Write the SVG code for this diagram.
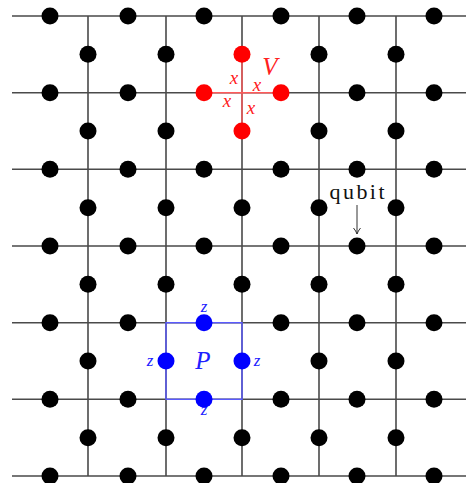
<svg xmlns="http://www.w3.org/2000/svg" width="466" height="483" viewBox="0 0 466 483">
<defs>
<style>
.g{stroke:#4a4a4a;stroke-width:1.6;fill:none}
.d{fill:#000}
.r{fill:#ff0000}
.rl{stroke:#ff5a5a;stroke-width:1.4;fill:none}
.b{fill:#0000ff}
.bl{stroke:#5a5aff;stroke-width:1.4;fill:none}
.t{font-family:"Liberation Serif","DejaVu Serif",serif}
.it{font-style:italic}
</style>
<circle id="dot" r="8.5"/>
<marker id="ah" markerWidth="8" markerHeight="8" refX="6" refY="4" orient="auto" markerUnits="userSpaceOnUse"><path d="M0,0.5 Q3,3 6,4 Q3,5 0,7.5" fill="none" stroke="#333" stroke-width="1"/></marker>
</defs>
<rect width="466" height="483" fill="#fff"/>
<g id="connectors">
<g class="g">
<path d="M12,16H466M12,92.7H466M12,169.3H466M12,246H466M12,322.7H466M12,399.3H466M12,476H466"/>
<path d="M88,16V476M166,16V476M242,16V476M319,16V476M396,16V476"/>
</g>
<g id="V-edges" class="rl"><path d="M204,92.7H281M242,54V131"/></g>
<g id="P-edges" class="bl"><rect x="166" y="322.7" width="76" height="76.6"/></g>
<line x1="357" y1="205" x2="357" y2="234" stroke="#333" stroke-width="1" marker-end="url(#ah)"/>
</g>
<g id="qubits" class="d">
<use href="#dot" x="50" y="16"/><use href="#dot" x="128" y="16"/><use href="#dot" x="204" y="16"/><use href="#dot" x="281" y="16"/><use href="#dot" x="357" y="16"/><use href="#dot" x="434" y="16"/>
<use href="#dot" x="50" y="92.7"/><use href="#dot" x="128" y="92.7"/><use href="#dot" x="357" y="92.7"/><use href="#dot" x="434" y="92.7"/>
<use href="#dot" x="50" y="169.3"/><use href="#dot" x="128" y="169.3"/><use href="#dot" x="204" y="169.3"/><use href="#dot" x="281" y="169.3"/><use href="#dot" x="357" y="169.3"/><use href="#dot" x="434" y="169.3"/>
<use href="#dot" x="50" y="246"/><use href="#dot" x="128" y="246"/><use href="#dot" x="204" y="246"/><use href="#dot" x="281" y="246"/><use href="#dot" x="357" y="246"/><use href="#dot" x="434" y="246"/>
<use href="#dot" x="50" y="322.7"/><use href="#dot" x="128" y="322.7"/><use href="#dot" x="281" y="322.7"/><use href="#dot" x="357" y="322.7"/><use href="#dot" x="434" y="322.7"/>
<use href="#dot" x="50" y="399.3"/><use href="#dot" x="128" y="399.3"/><use href="#dot" x="281" y="399.3"/><use href="#dot" x="357" y="399.3"/><use href="#dot" x="434" y="399.3"/>
<use href="#dot" x="50" y="476"/><use href="#dot" x="128" y="476"/><use href="#dot" x="204" y="476"/><use href="#dot" x="281" y="476"/><use href="#dot" x="357" y="476"/><use href="#dot" x="434" y="476"/>
<use href="#dot" x="88" y="54.3"/><use href="#dot" x="166" y="54.3"/><use href="#dot" x="319" y="54.3"/><use href="#dot" x="396" y="54.3"/>
<use href="#dot" x="88" y="131"/><use href="#dot" x="166" y="131"/><use href="#dot" x="319" y="131"/><use href="#dot" x="396" y="131"/>
<use href="#dot" x="88" y="207.7"/><use href="#dot" x="166" y="207.7"/><use href="#dot" x="242" y="207.7"/><use href="#dot" x="319" y="207.7"/><use href="#dot" x="396" y="207.7"/>
<use href="#dot" x="88" y="284.3"/><use href="#dot" x="166" y="284.3"/><use href="#dot" x="242" y="284.3"/><use href="#dot" x="319" y="284.3"/><use href="#dot" x="396" y="284.3"/>
<use href="#dot" x="88" y="361"/><use href="#dot" x="319" y="361"/><use href="#dot" x="396" y="361"/>
<use href="#dot" x="88" y="437.7"/><use href="#dot" x="166" y="437.7"/><use href="#dot" x="242" y="437.7"/><use href="#dot" x="319" y="437.7"/><use href="#dot" x="396" y="437.7"/>
</g>
<g id="vertex-V">
<g class="r"><use href="#dot" x="242" y="54.3"/><use href="#dot" x="204" y="92.7"/><use href="#dot" x="281" y="92.7"/><use href="#dot" x="242" y="131"/></g>
<g class="t it" fill="#ff2020" font-size="19" text-anchor="middle">
<text x="234" y="84">x</text><text x="257" y="91">x</text><text x="227" y="107">x</text><text x="251" y="114">x</text>
<text x="270" y="75" font-size="25">V</text>
</g>
</g>
<g id="plaquette-P">
<g class="b"><use href="#dot" x="204" y="322.7"/><use href="#dot" x="166" y="361"/><use href="#dot" x="242" y="361"/><use href="#dot" x="204" y="399.3"/></g>
<g class="t it" fill="#2020ff" font-size="17" text-anchor="middle">
<text x="204" y="312">z</text><text x="150" y="366">z</text><text x="257" y="366">z</text><text x="204" y="415">z</text>
<text x="203" y="369" font-size="25">P</text>
</g>
</g>
<g id="qubit-label"><text class="t" x="357" y="199" font-size="22" text-anchor="middle" fill="#111" textLength="55" lengthAdjust="spacing">qubit</text></g>
</svg>
